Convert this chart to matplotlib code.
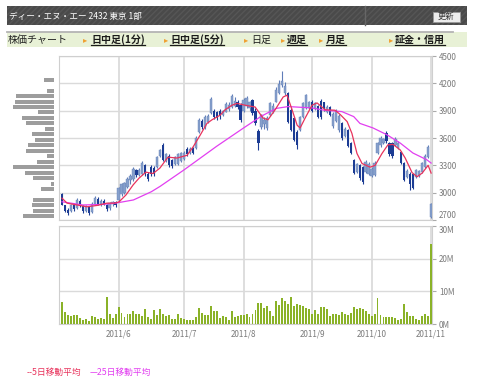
import matplotlib

matplotlib.use("Agg")
import matplotlib.pyplot as plt  # noqa: E402
from matplotlib.patches import Rectangle  # noqa: E402
from matplotlib.lines import Line2D  # noqa: E402
import numpy as np  # noqa: E402

plt.rcParams["font.family"] = ["Noto Sans CJK JP", "DejaVu Sans"]

# daily candles, trading-day index 0 = early May 2011, last = 2011/11/1
opens = [
    2990, 2860, 2810, 2800, 2860, 2830, 2910, 2850, 2800, 2840, 2790, 2880, 2930, 2880, 2910, 2870, 2830, 2880, 2900,
    2920, 2980, 3000, 3060, 3140, 3150, 3250, 3190, 3200, 3300, 3200, 3280, 3270, 3280, 3400, 3520, 3350, 3400, 3360, 3310, 3320, 3350,
    3370, 3480, 3430, 3490, 3490, 3670, 3790, 3720, 3780, 3870, 3900, 3880, 3900, 3850, 3890, 3920, 3940, 3950, 4000, 3960,
    3900, 3950, 3930, 4020, 3900, 3680, 3720, 3750, 3710, 3850, 3880, 4000, 4090, 4180, 4090, 4090, 3910, 3820, 3670, 3690, 3830, 3930, 3930,
    4000, 3920, 3950, 4010, 3990, 3880, 3940, 3730, 3790, 3690, 3760, 3620, 3690, 3540, 3360, 3230, 3300, 3280, 3230, 3200,
    3180, 3190, 3430, 3520, 3540, 3660, 3540, 3550, 3520, 3490, 3450, 3330, 3170, 3210, 3200, 3170, 3180, 3230, 3280, 3390,
    2730,
]
highs = [
    3000, 2870, 2830, 2880, 2890, 2940, 2930, 2870, 2870, 2850, 2900, 2960, 2950, 2930, 2930, 2880, 2900, 2910, 2910,
    3060, 3110, 3120, 3170, 3200, 3280, 3260, 3270, 3350, 3310, 3230, 3300, 3290, 3400, 3480, 3540, 3440, 3420, 3370, 3400, 3440, 3450,
    3460, 3500, 3500, 3500, 3620, 3820, 3810, 3850, 3860, 4050, 3920, 3900, 3920, 3910, 3990, 3990, 4080, 4050, 4020, 3980,
    4040, 4060, 4010, 4030, 3930, 3700, 3860, 3830, 3840, 3990, 3980, 4160, 4240, 4330, 4210, 4110, 3930, 3830, 3690, 3840, 3990, 4080, 4010,
    4020, 3990, 3960, 4030, 4000, 3960, 3950, 3880, 3920, 3860, 3780, 3720, 3700, 3560, 3370, 3330, 3320, 3290, 3360, 3340,
    3280, 3350, 3560, 3620, 3600, 3680, 3560, 3560, 3610, 3570, 3460, 3340, 3260, 3230, 3210, 3260, 3250, 3340, 3420, 3520,
    2890,
]
lows = [
    2860, 2790, 2760, 2790, 2800, 2820, 2840, 2780, 2790, 2760, 2780, 2860, 2870, 2850, 2860, 2800, 2810, 2850, 2840,
    2910, 2960, 2990, 3050, 3100, 3130, 3170, 3180, 3190, 3180, 3130, 3180, 3180, 3270, 3390, 3350, 3340, 3280, 3270, 3300, 3300, 3340,
    3360, 3400, 3420, 3420, 3480, 3660, 3700, 3700, 3760, 3860, 3810, 3800, 3810, 3840, 3880, 3900, 3930, 3940, 3920, 3780,
    3880, 3930, 3900, 3850, 3740, 3470, 3700, 3700, 3690, 3840, 3870, 3990, 4080, 4160, 4070, 3760, 3680, 3570, 3480, 3680, 3820, 3920, 3920,
    3880, 3910, 3820, 3810, 3900, 3870, 3840, 3710, 3780, 3670, 3580, 3610, 3500, 3420, 3210, 3220, 3140, 3090, 3220, 3190,
    3170, 3180, 3420, 3500, 3530, 3550, 3400, 3380, 3510, 3480, 3320, 3130, 3160, 3030, 3040, 3160, 3170, 3220, 3270, 3380,
    2720,
]
closes = [
    2870, 2800, 2780, 2860, 2820, 2920, 2850, 2800, 2850, 2780, 2880, 2940, 2880, 2910, 2870, 2820, 2890, 2900, 2860,
    3050, 3100, 3110, 3150, 3180, 3260, 3190, 3250, 3330, 3200, 3150, 3200, 3210, 3390, 3470, 3360, 3420, 3300, 3290, 3390, 3420, 3440,
    3430, 3420, 3480, 3440, 3600, 3800, 3720, 3830, 3840, 4030, 3830, 3820, 3840, 3900, 3970, 3960, 4060, 4010, 3940, 3800,
    4020, 4040, 3990, 3870, 3760, 3550, 3850, 3800, 3820, 3980, 3950, 4130, 4190, 4230, 4170, 3780, 3690, 3580, 3520, 3830, 3980, 4070, 4000,
    3900, 3980, 3830, 3830, 3920, 3940, 3850, 3860, 3900, 3840, 3600, 3700, 3510, 3440, 3220, 3310, 3160, 3120, 3340, 3320,
    3260, 3330, 3540, 3600, 3590, 3570, 3420, 3400, 3590, 3550, 3330, 3140, 3240, 3100, 3050, 3250, 3240, 3330, 3400, 3500,
    2880,
]
# volume, millions of shares
volumes = [
    6.6, 3.8, 2.75, 2.5, 2.75, 2.75, 1.7, 1.2, 1.5, 0.9, 2.5, 2.2, 1.5, 1.7, 1.6, 8.2, 3.0, 1.9, 3.1,
    5.2, 3.3, 2.0, 3.1, 3.0, 4.0, 3.0, 3.0, 2.5, 4.6, 2.2, 1.4, 4.3, 2.75, 4.6, 3.2, 2.5, 2.75, 1.4, 1.4, 3.0, 1.7,
    1.4, 1.1, 1.1, 1.1, 2.2, 4.8, 3.3, 2.75, 2.75, 5.6, 4.0, 4.0, 1.7, 2.4, 2.1, 1.2, 4.0, 2.1, 2.5, 2.7,
    2.7, 3.0, 2.0, 3.2, 4.3, 6.3, 6.3, 4.8, 5.6, 4.0, 2.6, 6.9, 5.8, 8.1, 6.9, 6.0, 8.3, 5.5, 6.1, 5.7, 5.6, 4.8, 4.6,
    3.0, 4.3, 3.2, 5.1, 5.1, 4.6, 2.6, 3.0, 3.0, 2.9, 3.7, 3.0, 2.9, 3.5, 5.1, 4.5, 5.0, 4.5, 4.0, 3.2,
    2.5, 3.2, 8.1, 2.9, 2.0, 2.0, 2.0, 2.2, 1.7, 1.3, 1.5, 6.0, 3.7, 2.4, 2.4, 1.4, 1.2, 2.6, 3.2, 2.6,
    24.6,
]

# moving averages (trading-day index, price)
ma5_idx = [0, 1.7, 5, 8.4, 11.8, 15.1, 17.8, 19.2, 21.5, 23.9, 25.9, 28.2, 30.6, 32.9, 35.6, 38.6, 42, 44, 46.4,
           48.7, 50.4, 53.1, 54.8, 57.1, 58.8, 61.5, 64.9, 67.5, 69.2, 71.6, 74.3, 75.6, 77.3, 79, 80, 81.7, 84,
           85.7, 88.4, 91.7, 93.4, 95.8, 97.4, 99.1, 100.8, 103.5, 105.2, 107.5, 109.5, 111.2, 113.6, 115.3,
           117.6, 119.3, 121, 123, 124]
ma5_val = [2940, 2885, 2865, 2845, 2860, 2885, 2885, 2900, 2975, 3085, 3160, 3225, 3210, 3270, 3390, 3380, 3410,
           3500, 3630, 3760, 3800, 3850, 3910, 3960, 3980, 3960, 3940, 3820, 3800, 3910, 4050, 4070, 3910, 3740,
           3710, 3820, 3960, 3985, 3910, 3905, 3860, 3780, 3650, 3430, 3320, 3280, 3300, 3430, 3525, 3530, 3470,
           3380, 3220, 3175, 3215, 3300, 3215]
ma25_idx = [0, 7, 13, 18, 24, 30, 33, 41, 52, 61, 67, 72, 76, 84, 88, 94, 98, 100.1, 104.5, 109.2, 113.6,
            117.9, 122.6, 124]
ma25_val = [2900, 2865, 2870, 2885, 2920, 3010, 3070, 3250, 3510, 3710, 3840, 3925, 3945, 3930, 3905, 3890,
            3835, 3760, 3710, 3635, 3545, 3435, 3360, 3325]

# volume-by-price band (left side)
band_prices = [4240, 4180, 4120, 4060, 4000, 3940, 3880, 3820, 3760, 3700, 3640, 3580, 3520,
               3460, 3400, 3340, 3280, 3220, 3160, 3100, 3040, 2980, 2920, 2860, 2800, 2740]
band_volume = [10, 0, 7, 38, 39, 41, 16, 32, 28, 9, 22, 19, 26, 28, 7, 17, 41, 29, 21, 3, 13, 0, 21, 22, 21, 31]

month_idx = [19, 41, 61, 84, 104, 124]
month_labels = ["2011/6", "2011/7", "2011/8", "2011/9", "2011/10", "2011/11"]
price_ticks = [2700, 3000, 3300, 3600, 3900, 4200, 4500]
vol_ticks = [0, 10, 20, 30]
vol_labels = ["0M", "10M", "20M", "30M"]

W, H = 480, 388
UP = "#86a0cb"
DOWN = "#1c3c94"
GRID = "#dadada"
TICK = "#7a7a7a"


def fx(px):
    return px / W


def fy(py):
    return 1 - py / H


fig = plt.figure(figsize=(W / 100, H / 100), dpi=100)

# header bar
fig.add_artist(Rectangle((fx(7), fy(25)), fx(460), 19 / H, transform=fig.transFigure,
                         facecolor="#4a4a4a", edgecolor="#565656", hatch="//////", lw=0))
fig.add_artist(Line2D([fx(365), fx(365)], [fy(25), fy(6)], transform=fig.transFigure, color="#666666", lw=1))
fig.text(fx(9), fy(16), "ディー・エヌ・エー 2432 東京 1部", color="white", fontsize=6.2, va="center")
fig.add_artist(Rectangle((fx(433), fy(21.5)), fx(27), 9.5 / H, transform=fig.transFigure,
                         facecolor="#ececec", edgecolor="#999999", lw=0.6))
fig.text(fx(446.5), fy(16.5), "更新", color="#333333", fontsize=6, ha="center", va="center")

# navigation bar
fig.add_artist(Rectangle((fx(7), fy(47)), fx(460), 15 / H, transform=fig.transFigure,
                         facecolor="#e8f1d6", edgecolor="none"))
fig.add_artist(Line2D([fx(7), fx(453)], [fy(32), fy(32)], transform=fig.transFigure, color="#b4b4b4", lw=1.3))
fig.text(fx(8), fy(40), "株価チャート", fontsize=7.2, va="center", color="#222222")
nav = [(83, 91, "日中足(1分)", True), (164, 170, "日中足(5分)", True), (244, 251, "日足", False),
       (281, 287, "週足", True), (319, 326, "月足", True), (389, 395, "証金・信用", True)]
links = []
for tri_x, txt_x, label, is_link in nav:
    fig.text(fx(tri_x), fy(40), "▸", fontsize=6, va="center", color="#f0a030",
             family=["DejaVu Sans"])
    t = fig.text(fx(txt_x), fy(40), label, fontsize=7.2, va="center", color="#1a1a1a",
                 fontweight="bold" if is_link else "normal")
    if is_link:
        links.append(t)

# price panel
ax = fig.add_axes([fx(59), fy(220), fx(373), 164 / H])
idx = np.arange(len(closes))
o = np.array(opens)
c = np.array(closes)
hi = np.array(highs)
lo = np.array(lows)
up = c >= o
dn = ~up
ax.vlines(idx[up], lo[up], hi[up], color="#5f7db8", lw=0.8, zorder=2)
ax.vlines(idx[dn], lo[dn], hi[dn], color=DOWN, lw=0.8, zorder=2)
ax.bar(idx[up], np.maximum(c[up] - o[up], 8), bottom=o[up], width=0.75, color=UP,
       edgecolor="#6783ba", lw=0.3, zorder=3)
ax.bar(idx[dn], np.maximum(o[dn] - c[dn], 8), bottom=c[dn], width=0.75, color=DOWN, zorder=3)
ax.plot(ma25_idx, ma25_val, color="#e23ff0", lw=0.9, zorder=4)
ax.plot(ma5_idx, ma5_val, color="#e8335c", lw=0.9, zorder=5)
ax.set_xlim(-1.0, 124.3)
ax.set_ylim(2700, 4500)
ax.set_yticks(price_ticks)
ax.set_xticks(month_idx)
ax.yaxis.tick_right()
ax.grid(axis="y", color=GRID, lw=1)
ax.grid(axis="x", color="#dedede", lw=1.4)
ax.set_axisbelow(True)
ax.tick_params(axis="x", length=0, labelbottom=False)
ax.tick_params(axis="y", length=3, color="#aaaaaa", labelsize=5.8, labelcolor=TICK, pad=2)
for s in ax.spines.values():
    s.set_color("#cfcfcf")
# keep the bottom price label clear of the volume scale
ax.yaxis.get_major_ticks()[0].label2.set_verticalalignment("bottom")

# volume-by-price bars
hx = fig.add_axes([fx(13), fy(220), fx(41), 164 / H])
hx.barh(band_prices, band_volume, height=44, color="#9d9d9d")
hx.set_xlim(max(band_volume), 0)
hx.set_ylim(2700, 4500)
hx.axis("off")

# volume panel
vx = fig.add_axes([fx(59), fy(324), fx(373), 98 / H])
vx.bar(idx, volumes, width=0.65, color="#8ab228", zorder=3)
vx.set_xlim(-1.0, 124.3)
vx.set_ylim(0, 30)
vx.set_yticks(vol_ticks)
vx.set_yticklabels(vol_labels)
vx.set_xticks(month_idx)
vx.set_xticklabels(month_labels)
vx.yaxis.tick_right()
vx.grid(axis="y", color=GRID, lw=1)
vx.grid(axis="x", color="#dedede", lw=1.4)
vx.set_axisbelow(True)
vx.tick_params(axis="x", length=0, labelsize=5.8, labelcolor=TICK, pad=4)
vx.tick_params(axis="y", length=3, color="#aaaaaa", labelsize=5.8, labelcolor=TICK, pad=2)
for s in vx.spines.values():
    s.set_color("#cfcfcf")
vx.yaxis.get_major_ticks()[-1].label2.set_verticalalignment("top")

# legend text
fig.text(fx(27), fy(372), "--5日移動平均", color="#e8335c", fontsize=6.3, va="center")
fig.text(fx(90), fy(372), "—25日移動平均", color="#e23ff0", fontsize=6.3, va="center")

# underline the links
fig.canvas.draw()
r = fig.canvas.get_renderer()
for t in links:
    bb = t.get_window_extent(r)
    fig.add_artist(Line2D([bb.x0 / W, bb.x1 / W], [(bb.y0 + 0.5) / H] * 2, transform=fig.transFigure,
                          color="#1a1a1a", lw=0.9))

fig.savefig("out.png", dpi=100)
